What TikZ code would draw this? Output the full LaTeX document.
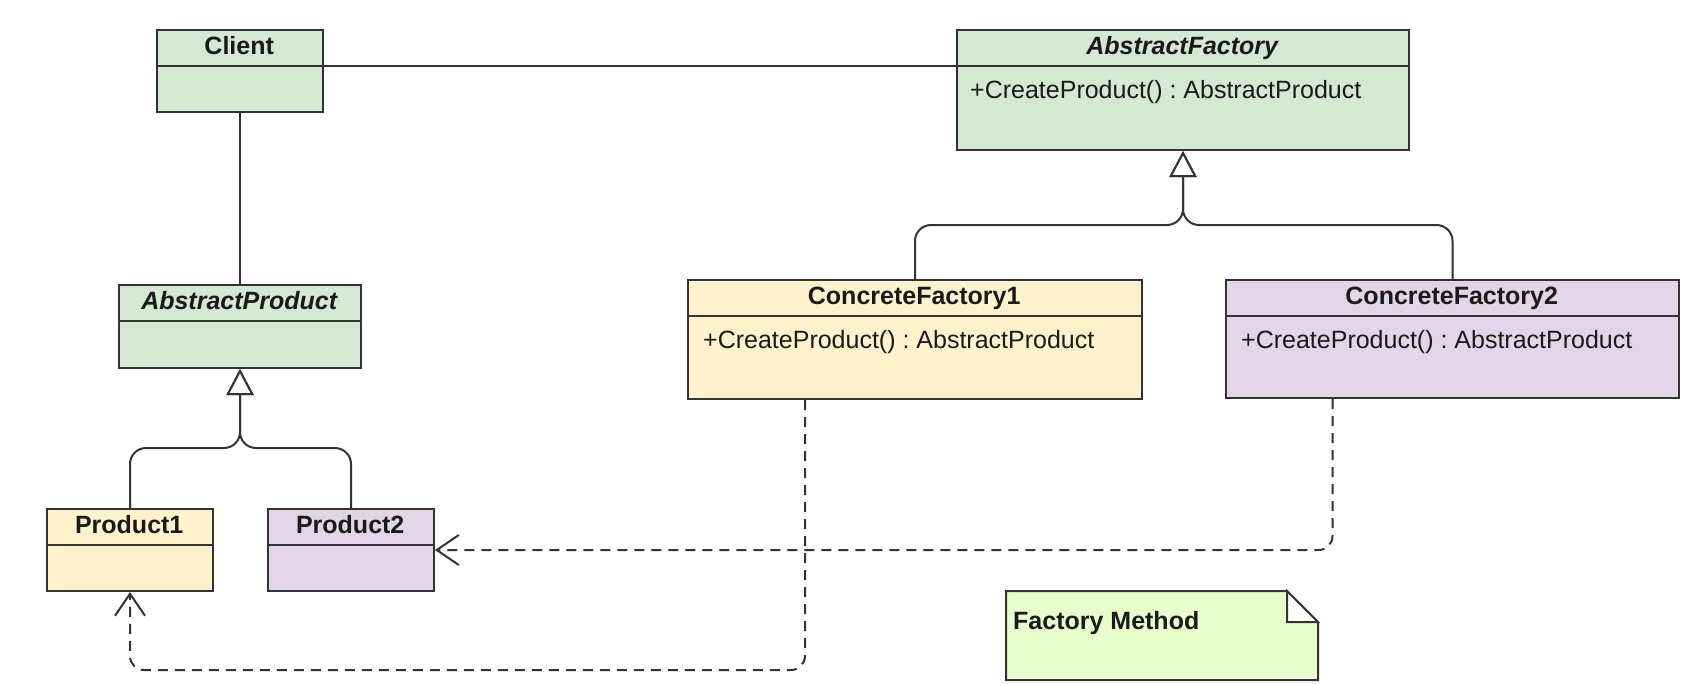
\documentclass[tikz,border=0pt]{standalone}
\usepackage{fontspec}
\setmainfont{Liberation Sans}
\usetikzlibrary{arrows.meta}
\definecolor{gfill}{HTML}{D5E8D4}
\definecolor{yfill}{HTML}{FFF2CC}
\definecolor{pfill}{HTML}{E1D5E7}
\definecolor{nfill}{HTML}{E6FFCC}
\definecolor{edge}{HTML}{333333}
\definecolor{ink}{HTML}{1A1A1A}
\begin{document}
\begin{tikzpicture}[x=1pt,y=-1pt,
  box/.style={draw=edge, line width=2pt, inner sep=0pt, anchor=north west},
  head/.style={inner sep=0pt, anchor=north west, minimum height=37pt, text=ink,
    font=\fontsize{25}{30}\selectfont\bfseries, text height=18pt, text depth=5pt},
  ihead/.style={head, font=\fontsize{25}{30}\selectfont\bfseries\itshape},
  method/.style={inner sep=0pt, anchor=west, text=ink, font=\fontsize{25}{30}\selectfont},
  divider/.style={draw=edge, line width=2pt},
  assoc/.style={draw=edge, line width=2pt},
  inherit/.style={draw=edge, line width=2pt, rounded corners=16pt,
    -{Triangle[open, fill=white, length=26pt, width=27pt, line width=2pt]}},
  dep/.style={draw=edge, line width=2pt, dash pattern=on 10pt off 7pt, rounded corners=14pt,
    -{Straight Barb[length=22pt, width=30pt, line width=2pt]}}
]
\useasboundingbox (0,0) rectangle (1705,685);

% Client
\node[box, fill=gfill, minimum width=166pt, minimum height=82pt] (client) at (156,29) {};
\node[head, minimum width=166pt] (client-h) at (156,29) {Client};
\draw[divider] (client-h.south west) -- (client-h.south east);

% AbstractProduct
\node[box, fill=gfill, minimum width=242pt, minimum height=83pt] (absprod) at (118,284) {};
\node[ihead, minimum width=242pt] (absprod-h) at (118,284) {AbstractProduct};
\draw[divider] (absprod-h.south west) -- (absprod-h.south east);

% Product1
\node[box, fill=yfill, minimum width=166pt, minimum height=82pt] (prod1) at (46,508) {};
\node[head, minimum width=166pt] (prod1-h) at (46,508) {Product1};
\draw[divider] (prod1-h.south west) -- (prod1-h.south east);

% Product2
\node[box, fill=pfill, minimum width=166pt, minimum height=82pt] (prod2) at (267,508) {};
\node[head, minimum width=166pt] (prod2-h) at (267,508) {Product2};
\draw[divider] (prod2-h.south west) -- (prod2-h.south east);

% AbstractFactory
\node[box, fill=gfill, minimum width=452pt, minimum height=120pt] (absfac) at (956,29) {};
\node[ihead, minimum width=452pt] (absfac-h) at (956,29) {AbstractFactory};
\draw[divider] (absfac-h.south west) -- (absfac-h.south east);
\node[method] (absfac-m) at (970,92) {+CreateProduct()~:~AbstractProduct};

% ConcreteFactory1
\node[box, fill=yfill, minimum width=454pt, minimum height=119pt] (cf1) at (687,279) {};
\node[head, minimum width=454pt] (cf1-h) at (687,279) {ConcreteFactory1};
\draw[divider] (cf1-h.south west) -- (cf1-h.south east);
\node[method] (cf1-m) at (703,342) {+CreateProduct()~:~AbstractProduct};

% ConcreteFactory2
\node[box, fill=pfill, minimum width=453pt, minimum height=118pt] (cf2) at (1225,279) {};
\node[head, minimum width=453pt] (cf2-h) at (1225,279) {ConcreteFactory2};
\draw[divider] (cf2-h.south west) -- (cf2-h.south east);
\node[method] (cf2-m) at (1241,342) {+CreateProduct()~:~AbstractProduct};

% Note
\draw[draw=edge, line width=2pt, fill=nfill, line join=miter]
  (1006,591) -- (1287,591) -- (1318,622) -- (1318,680) -- (1006,680) -- cycle;
\draw[draw=edge, line width=2pt, fill=white, line join=miter]
  (1287,591) -- (1287,622) -- (1318,622) -- cycle;
\node[inner sep=0pt, anchor=west, text=ink, font=\fontsize{25}{30}\selectfont\bfseries] (note) at (1013,623) {Factory Method};

% Associations
\draw[assoc] (client-h.south east) -- (absfac-h.south west);
\draw[assoc] (client.south) -- (absprod.north);

% Generalizations
\draw[inherit] (prod1.north) |- (absprod.south |- 0,448) -- (absprod.south);
\draw[inherit] (prod2.north) |- (absprod.south |- 0,448) -- (absprod.south);
\draw[inherit] (cf1.north) |- (absfac.south |- 0,225) -- (absfac.south);
\draw[inherit] (cf2.north) |- (absfac.south |- 0,225) -- (absfac.south);

% Dependencies
\draw[dep] ([xshift=-120pt]cf2.south) |- (prod2.east);
\draw[dep] ([xshift=-110pt]cf1.south) |- ([yshift=-78pt]prod1.south) -- (prod1.south);
\end{tikzpicture}
\end{document}
